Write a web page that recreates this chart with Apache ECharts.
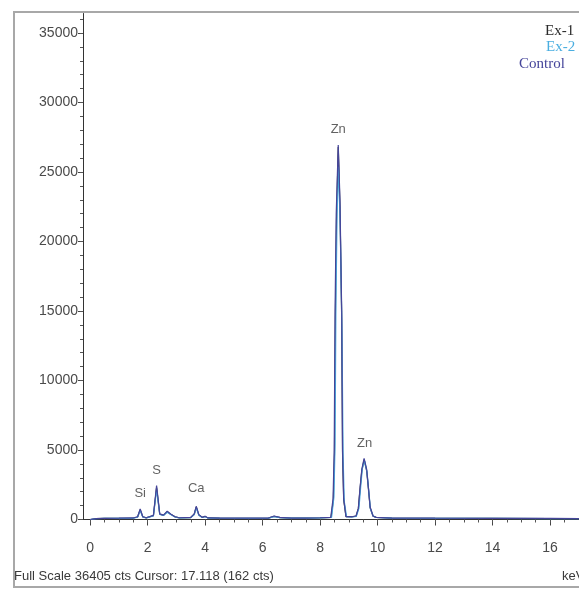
<!DOCTYPE html>
<html><head><meta charset="utf-8">
<script src="https://cdn.jsdelivr.net/npm/echarts@6/dist/echarts.min.js"></script>
<style>html,body{margin:0;padding:0;background:#fff}#c{width:579px;height:589px}</style>
</head><body><div id="c"></div>
<script>
// energies (keV) and counts
const ex1Spectrum = [
  [0,0],[0.2,60],[0.5,80],[1.0,90],[1.5,105],[1.65,180],[1.74,700],[1.83,190],[1.95,120],
  [2.2,280],[2.31,2300],[2.42,380],[2.55,300],[2.68,560],[2.8,380],[2.95,190],[3.1,120],
  [3.5,140],[3.62,380],[3.69,900],[3.78,330],[3.9,150],[4.0,220],[4.1,110],[4.5,100],
  [5.5,90],[6.2,100],[6.4,230],[6.6,140],[7.0,100],[7.5,100],[8.0,120],[8.38,150],
  [8.46,1400],[8.5,4800],[8.53,14500],[8.57,21500],[8.63,26800],[8.69,22500],[8.75,14500],
  [8.78,4800],[8.82,1400],[8.9,200],[9.1,190],[9.25,240],[9.33,780],[9.39,2200],[9.45,3500],
  [9.53,4300],[9.62,3500],[9.68,2200],[9.74,850],[9.84,240],[9.95,150],[10.5,100],[12,90],
  [14,80],[16,70],[17.25,60]
];
const ex2Spectrum = [
  [0,0],[0.2,55],[0.5,75],[1.0,85],[1.5,100],[1.65,170],[1.74,650],[1.83,180],[1.95,115],
  [2.2,260],[2.31,2150],[2.42,360],[2.55,290],[2.68,520],[2.8,360],[2.95,180],[3.1,115],
  [3.5,135],[3.62,360],[3.69,850],[3.78,310],[3.9,145],[4.0,200],[4.1,105],[4.5,95],
  [5.5,85],[6.2,95],[6.4,210],[6.6,130],[7.0,95],[7.5,95],[8.0,115],[8.4,160],
  [8.48,1600],[8.52,5500],[8.55,15500],[8.59,22000],[8.64,25400],[8.7,21000],[8.76,13500],
  [8.8,4500],[8.84,1300],[8.92,200],[9.1,180],[9.26,230],[9.35,800],[9.41,2300],[9.47,3700],
  [9.55,4200],[9.63,3400],[9.69,2100],[9.75,760],[9.85,230],[9.95,145],[10.5,95],[12,85],
  [14,75],[16,65],[17.25,55]
];
const controlSpectrum = [
  [0,0],[0.2,65],[0.5,85],[1.0,95],[1.5,110],[1.65,200],[1.74,760],[1.83,200],[1.95,125],
  [2.2,300],[2.31,2450],[2.42,400],[2.55,310],[2.68,600],[2.8,400],[2.95,200],[3.1,125],
  [3.5,150],[3.62,400],[3.69,950],[3.78,350],[3.9,155],[4.0,230],[4.1,115],[4.5,105],
  [5.5,95],[6.2,105],[6.4,250],[6.6,150],[7.0,105],[7.5,105],[8.0,125],[8.37,155],
  [8.45,1500],[8.49,5000],[8.52,15000],[8.56,22000],[8.63,26950],[8.69,23000],[8.75,15000],
  [8.78,5000],[8.82,1500],[8.9,210],[9.1,200],[9.25,250],[9.33,800],[9.39,2300],[9.45,3600],
  [9.53,4400],[9.62,3600],[9.68,2300],[9.74,900],[9.84,250],[9.95,155],[10.5,105],[12,95],
  [14,85],[16,75],[17.25,65]
];
const seriesNames = ['Ex-1','Ex-2','Control'];
const seriesColors = ['#2a2a2a','#4aaee0','#45459a'];
// element peak labels: name, keV, label height (counts)
const peakNames = ['Si','S','Ca','Zn','Zn'];
const peakKeV = [1.74,2.31,3.69,8.63,9.55];
const peakLabelY = [1900,3550,2250,28050,5500];
const xTickValues = [0,2,4,6,8,10,12,14,16];
const xMinorTicks = [];
for (let i = 0; i <= 34; i++) xMinorTicks.push(i * 0.5);
const yTickValues = [0,5000,10000,15000,20000,25000,30000,35000];
const yMinorTicks = [];
for (let i = 0; i <= 36; i++) yMinorTicks.push(i * 1000);
const fullScale = 36405;

const chart = echarts.init(document.getElementById('c'), null, {renderer:'canvas'});
const font = "'Liberation Sans', Arial, sans-serif";
const spectra = [ex1Spectrum, ex2Spectrum, controlSpectrum];
const lineSeries = spectra.map((d, i) => ({
  name: seriesNames[i], type: 'line', data: d, showSymbol: false, symbol: 'none',
  xAxisIndex: 0, yAxisIndex: 0,
  lineStyle: {color: seriesColors[i], width: 1.2}, itemStyle: {color: seriesColors[i]},
  z: 3 + i, silent: true
}));
const legendTops = [24, 40, 57];
const legendLefts = [540, 541, 514];
const legends = seriesNames.map((n, i) => ({
  data: [{name: n, icon: 'none', textStyle: {color: seriesColors[i]}}],
  left: legendLefts[i], top: legendTops[i], itemWidth: 0, itemHeight: 0, padding: 0,
  selectedMode: false,
  textStyle: {fontFamily: "'Liberation Serif', 'Times New Roman', serif", fontSize: 15}
}));
chart.setOption({
  animation: false,
  backgroundColor: '#fff',
  legend: legends,
  grid: {left: 83, top: 13.5, width: 503, height: 506, containLabel: false, outerBoundsMode: 'none'},
  xAxis: [{
    type: 'value', min: -0.25, max: 17.25,
    axisLine: {show: true, onZero: false, lineStyle: {color: '#333', width: 1}},
    axisTick: {show: true, customValues: xTickValues, length: 6, lineStyle: {color: '#444'}},
    axisLabel: {customValues: xTickValues, color: '#4a4a4a', fontSize: 14, fontFamily: font, margin: 22},
    splitLine: {show: false}
  }, {
    type: 'value', min: -0.25, max: 17.25, position: 'bottom',
    axisLine: {show: false, onZero: false},
    axisTick: {show: true, customValues: xMinorTicks, length: 3, lineStyle: {color: '#555'}},
    axisLabel: {show: false}, splitLine: {show: false}
  }],
  yAxis: [{
    type: 'value', min: 0, max: fullScale,
    axisLine: {show: true, onZero: false, lineStyle: {color: '#333', width: 1}},
    axisTick: {show: true, customValues: yTickValues, length: 5, lineStyle: {color: '#444'}},
    axisLabel: {customValues: yTickValues, formatter: v => String(v), color: '#4a4a4a', fontSize: 14, fontFamily: font, margin: 5},
    splitLine: {show: false}
  }, {
    type: 'value', min: 0, max: fullScale, position: 'left',
    axisLine: {show: false, onZero: false},
    axisTick: {show: true, customValues: yMinorTicks, length: 3, lineStyle: {color: '#555'}},
    axisLabel: {show: false}, splitLine: {show: false}
  }],
  graphic: [
    {type: 'rect', shape: {x: 14, y: 12, width: 600, height: 575}, style: {fill: 'none', stroke: '#a8a8a8', lineWidth: 2}, z: 0, silent: true},
    {type: 'text', left: 14, top: 570, style: {text: 'Full Scale 36405 cts Cursor: 17.118 (162 cts)', fill: '#3a3a3a', font: "13px 'Liberation Sans', Arial, sans-serif"}},
    {type: 'text', left: 562, top: 570, style: {text: 'keV', fill: '#3a3a3a', font: "13px 'Liberation Sans', Arial, sans-serif"}}
  ],
  series: lineSeries.concat([{
    name: 'peaks', type: 'scatter', symbolSize: 0, silent: true, z: 10,
    xAxisIndex: 0, yAxisIndex: 0,
    data: peakNames.map((n, i) => [peakKeV[i], peakLabelY[i], n]),
    label: {show: true, position: 'inside', formatter: p => p.value[2], color: '#3a3a3a', fontSize: 13, fontFamily: font}
  }])
});
</script></body></html>
